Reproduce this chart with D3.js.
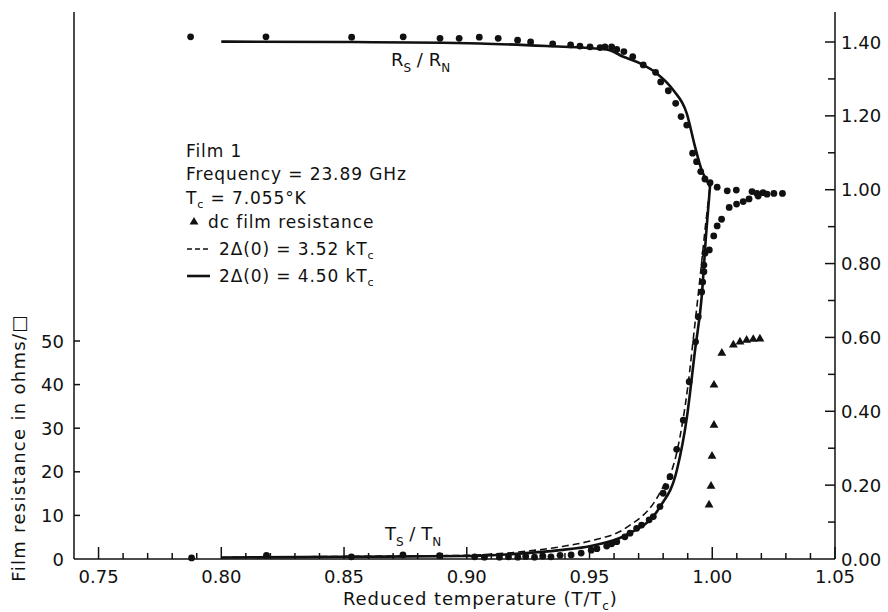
<!DOCTYPE html>
<html><head><meta charset="utf-8">
<script src="https://cdn.jsdelivr.net/npm/d3@7"></script>
<style>
html,body{margin:0;padding:0;background:#fff;}
svg{display:block;}
text{font-family:"DejaVu Sans",sans-serif;fill:#111;}
</style></head><body>
<svg id="chart" width="888" height="612"></svg>
<script>
// ---------- data ----------
const xMajorTicks = [0.75, 0.80, 0.85, 0.90, 0.95, 1.00, 1.05];
const xMinorTicks = [0.76,0.77,0.78,0.79,0.81,0.82,0.83,0.84,0.86,0.87,0.88,0.89,0.91,0.92,0.93,0.94,0.96,0.97,0.98,0.99,1.01,1.02,1.03,1.04];
const leftTicks = [0, 10, 20, 30, 40, 50];
const rightMajorTicks = [0, 0.2, 0.4, 0.6, 0.8, 1.0, 1.2, 1.4];
const rightMinorTicks = [0.1, 0.3, 0.5, 0.7, 0.9, 1.1, 1.3];

// R_S/R_N measured points
const rsDotT = [0.7875,0.8182,0.8531,0.8741,0.8891,0.8969,0.9051,0.9128,0.9207,0.9260,0.9350,0.9423,0.9461,0.9502,0.9543,0.9563,0.9590,0.9611,0.9640,0.9676,0.9719,0.9769,0.9790,0.9821,0.9851,0.9873,0.9896,0.9920,0.9936,0.9953,0.9970,0.9991,1.0020,1.0061,1.0098,1.0162,1.0182,1.0207,1.0223,1.0251,1.0286,1.0069,1.0099,1.0126,1.0150,1.0187];
const rsDotV = [1.414,1.414,1.413,1.414,1.410,1.410,1.413,1.410,1.405,1.400,1.395,1.392,1.389,1.387,1.385,1.387,1.387,1.380,1.374,1.360,1.338,1.318,1.292,1.268,1.234,1.198,1.175,1.099,1.076,1.049,1.029,1.019,1.007,0.997,0.999,0.995,0.990,0.992,0.988,0.990,0.990,0.952,0.961,0.968,0.975,0.983];

// T_S/T_N measured points
const tsDotT = [0.7879,0.8184,0.8530,0.8740,0.8889,0.9032,0.9072,0.9133,0.9170,0.9208,0.9240,0.9276,0.9310,0.9343,0.9380,0.9425,0.9466,0.9507,0.9530,0.9570,0.9590,0.9611,0.9644,0.9665,0.9692,0.9712,0.9743,0.9760,0.9787,0.9800,0.9811,0.9828,0.9855,0.9882,0.9906,0.9932,0.9943,0.9957,0.9961,0.9966,0.9966,0.9970,0.9988,1.0006,1.0020,1.0038];
const tsDotV = [0.003,0.010,0.006,0.011,0.009,0.006,0.005,0.005,0.006,0.005,0.007,0.005,0.008,0.006,0.010,0.011,0.016,0.024,0.028,0.035,0.041,0.047,0.060,0.070,0.083,0.092,0.106,0.115,0.142,0.178,0.196,0.223,0.297,0.376,0.480,0.588,0.656,0.723,0.750,0.778,0.796,0.828,0.837,0.875,0.902,0.920];

// theory curves, 2Δ(0) = 4.50 kTc (solid)
const rsSolidT = [0.800,0.850,0.9054,0.9325,0.957,0.9638,0.9706,0.9774,0.9841,0.9896,0.9930,0.9957,0.9984,0.9991];
const rsSolidV = [1.401,1.400,1.396,1.389,1.380,1.360,1.342,1.315,1.270,1.207,1.116,1.053,1.017,1.008];
const tsSolidT = [0.800,0.850,0.900,0.920,0.938,0.951,0.965,0.9787,0.9856,0.9897,0.9930,0.9957,0.9975,0.9991];
const tsSolidV = [0.004,0.006,0.008,0.014,0.024,0.036,0.065,0.141,0.241,0.385,0.566,0.710,0.880,1.010];
// 2Δ(0) = 3.52 kTc (dashed)
const tsDashT = [0.800,0.850,0.900,0.912,0.9257,0.939,0.951,0.965,0.9787,0.9856,0.9901,0.9925,0.9950,0.9972,0.9991];
const tsDashV = [0.004,0.007,0.010,0.014,0.022,0.034,0.050,0.085,0.180,0.290,0.470,0.610,0.760,0.900,1.010];

// dc film resistance (ohms per square)
const dcT = [0.9987,0.9995,0.9999,1.0007,1.0007,1.0039,1.0086,1.0113,1.0140,1.0167,1.0194];
const dcV = [12.4,16.7,23.6,30.7,39.9,47.2,49.1,49.8,50.2,50.4,50.5];

// ---------- layout ----------
const svg = d3.select("#chart");
const X0 = 74, X1 = 835, Y0 = 559, YTOP = 12;
const x = d3.scaleLinear().domain([0.74, 1.05]).range([X0, X1]);
const yR = d3.scaleLinear().domain([0, 1.4]).range([Y0, 42]);
const yL = d3.scaleLinear().domain([0, 50]).range([Y0, 341]);
const ink = "#111";

// axes lines
const g = svg.append("g").attr("stroke", ink).attr("stroke-width", 1.5).attr("fill", "none");
g.append("line").attr("x1", X0).attr("x2", X1).attr("y1", Y0).attr("y2", Y0);
g.append("line").attr("x1", X0).attr("x2", X0).attr("y1", Y0).attr("y2", YTOP);
g.append("line").attr("x1", X1).attr("x2", X1).attr("y1", Y0).attr("y2", YTOP);

// bottom ticks (inward)
g.selectAll(".xM").data(xMajorTicks).join("line")
  .attr("x1", d => x(d)).attr("x2", d => x(d)).attr("y1", Y0).attr("y2", Y0 - 12);
g.selectAll(".xm").data(xMinorTicks).join("line")
  .attr("x1", d => x(d)).attr("x2", d => x(d)).attr("y1", Y0).attr("y2", Y0 - 6);
// left ticks
g.selectAll(".yl").data(leftTicks.slice(1)).join("line")
  .attr("x1", X0).attr("x2", X0 + 6).attr("y1", d => yL(d)).attr("y2", d => yL(d));
// right ticks
g.selectAll(".yrM").data(rightMajorTicks.slice(1)).join("line")
  .attr("x1", X1).attr("x2", X1 - 10).attr("y1", d => yR(d)).attr("y2", d => yR(d));
g.selectAll(".yrm").data(rightMinorTicks).join("line")
  .attr("x1", X1).attr("x2", X1 - 7).attr("y1", d => yR(d)).attr("y2", d => yR(d));

// tick labels
const f2 = d3.format(".2f");
svg.selectAll(".xl").data(xMajorTicks).join("text")
  .attr("x", d => x(d)).attr("y", 583).attr("text-anchor", "middle")
  .attr("font-size", 18).text(d => f2(d));
svg.selectAll(".ll").data(leftTicks).join("text")
  .attr("x", 64).attr("y", d => yL(d) + 6.5).attr("text-anchor", "end")
  .attr("font-size", 18).text(d => d);
svg.selectAll(".rl").data(rightMajorTicks).join("text")
  .attr("x", 841).attr("y", d => yR(d) + 6.5).attr("text-anchor", "start")
  .attr("font-size", 18).text(d => f2(d));

// axis titles
svg.append("text").attr("transform", "translate(25,448) rotate(-90)")
  .attr("text-anchor", "middle").attr("font-size", 18).attr("letter-spacing", 1.3)
  .text("Film resistance in ohms/\u25A1");
const xt = svg.append("text").attr("x", 343).attr("y", 605).attr("font-size", 18).attr("letter-spacing", 0.9);
xt.append("tspan").text("Reduced temperature (T/T");
xt.append("tspan").attr("font-size", 12).attr("dy", 5).text("c");
xt.append("tspan").attr("dy", -5).text(")");

// curves
const line = d3.line().x(d => x(d[0])).y(d => yR(d[1])).curve(d3.curveMonotoneX);
const zip = (a, b) => a.map((v, i) => [v, b[i]]);
svg.append("path").datum(zip(rsSolidT, rsSolidV)).attr("d", line)
  .attr("fill", "none").attr("stroke", ink).attr("stroke-width", 2.6);
svg.append("path").datum(zip(tsDashT, tsDashV)).attr("d", line)
  .attr("fill", "none").attr("stroke", ink).attr("stroke-width", 1.6).attr("stroke-dasharray", "7,4");
svg.append("path").datum(zip(tsSolidT, tsSolidV)).attr("d", line)
  .attr("fill", "none").attr("stroke", ink).attr("stroke-width", 2.6);

// dots
svg.selectAll(".rs").data(zip(rsDotT, rsDotV)).join("circle")
  .attr("cx", d => x(d[0])).attr("cy", d => yR(d[1])).attr("r", 3.4).attr("fill", ink);
svg.selectAll(".ts").data(zip(tsDotT, tsDotV)).join("circle")
  .attr("cx", d => x(d[0])).attr("cy", d => yR(d[1])).attr("r", 3.4).attr("fill", ink);

// triangles
const tri = d3.symbol().type(d3.symbolTriangle).size(34);
svg.selectAll(".dc").data(zip(dcT, dcV)).join("path")
  .attr("transform", d => `translate(${x(d[0])},${yL(d[1])})`).attr("d", tri).attr("fill", ink);

// curve labels
function ratioLabel(xp, yp, a, sa, b, sb) {
  const t = svg.append("text").attr("x", xp).attr("y", yp).attr("font-size", 18);
  t.append("tspan").text(a);
  t.append("tspan").attr("font-size", 12).attr("dy", 6).text(sa);
  t.append("tspan").attr("dy", -6).text(" / " + b);
  t.append("tspan").attr("font-size", 12).attr("dy", 6).text(sb);
}
ratioLabel(391, 66, "R", "S", "R", "N");
ratioLabel(385, 540, "T", "S", "T", "N");

// legend
const L = svg.append("g").attr("font-size", 17).attr("letter-spacing", 0.9);
L.append("text").attr("x", 186).attr("y", 157).text("Film 1");
L.append("text").attr("x", 186).attr("y", 180).text("Frequency = 23.89 GHz");
const tc = L.append("text").attr("x", 186).attr("y", 204);
tc.append("tspan").text("T");
tc.append("tspan").attr("font-size", 11).attr("dy", 4).text("c");
tc.append("tspan").attr("dy", -4).text(" = 7.055°K");
L.append("path").attr("transform", "translate(194,222)").attr("d", tri).attr("fill", ink);
L.append("text").attr("x", 208).attr("y", 228).text("dc film resistance");
L.append("line").attr("x1", 187).attr("x2", 209).attr("y1", 249).attr("y2", 249)
  .attr("stroke", ink).attr("stroke-width", 1.6).attr("stroke-dasharray", "5,3");
const l1 = L.append("text").attr("x", 219).attr("y", 255);
l1.append("tspan").text("2\u0394(0) = 3.52 kT");
l1.append("tspan").attr("font-size", 11).attr("dy", 4).text("c");
L.append("line").attr("x1", 187).attr("x2", 210).attr("y1", 276).attr("y2", 276)
  .attr("stroke", ink).attr("stroke-width", 2.6);
const l2 = L.append("text").attr("x", 219).attr("y", 282);
l2.append("tspan").text("2\u0394(0) = 4.50 kT");
l2.append("tspan").attr("font-size", 11).attr("dy", 4).text("c");
</script>
</body></html>
